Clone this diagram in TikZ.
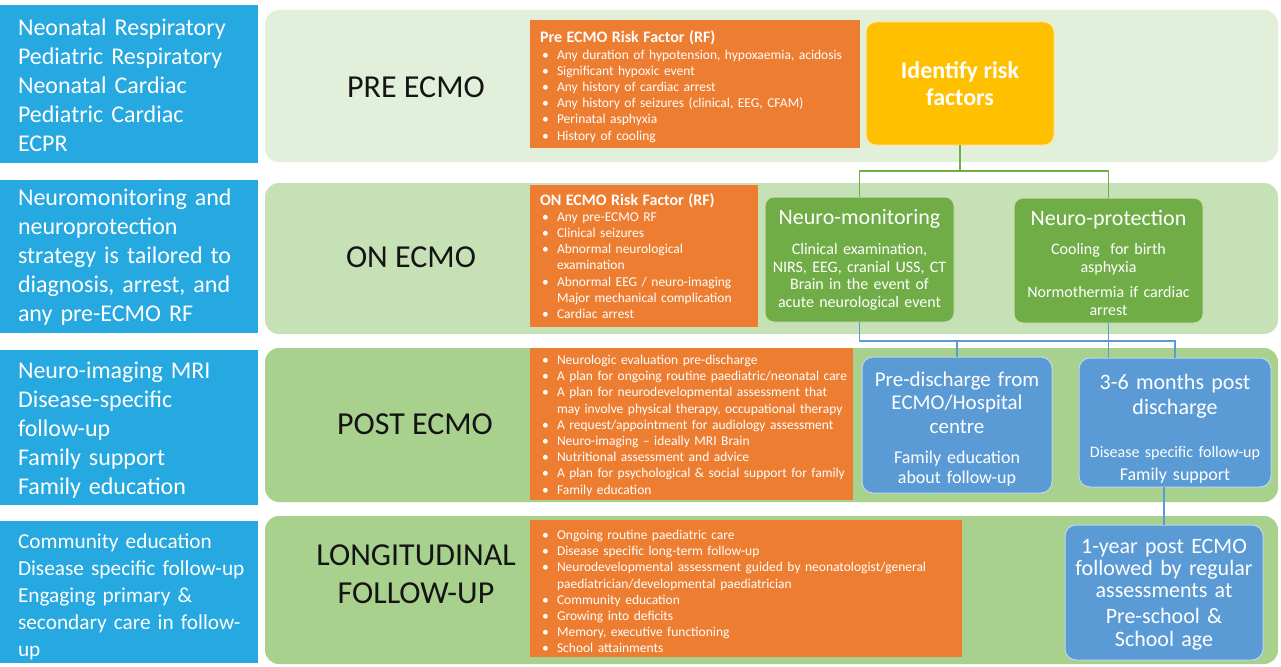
\documentclass[tikz,border=0pt]{standalone}
\usepackage{fontspec}
\setmainfont{Carlito}
\usetikzlibrary{calc}
\definecolor{leftblue}{RGB}{38,168,224}
\definecolor{row1}{RGB}{226,239,218}
\definecolor{row2}{RGB}{199,225,182}
\definecolor{row3}{RGB}{169,209,142}
\definecolor{orange1}{RGB}{237,125,49}
\definecolor{yellow1}{RGB}{255,192,0}
\definecolor{green1}{RGB}{112,173,71}
\definecolor{blue1}{RGB}{91,155,213}
\newcommand{\bl}{\makebox[17pt][l]{\hspace{2pt}\textbullet}}
\newcommand{\ind}{\hspace*{17pt}}
\newcommand{\fs}[2]{\fontsize{#1}{#2}\selectfont}
\begin{document}
\begin{tikzpicture}[x=1pt,y=-1pt,
 every node/.style={inner sep=0pt, outer sep=0pt},
 lbox/.style={fill=leftblue, anchor=north west},
 ltext/.style={text=white, font=\fs{24}{29}, align=left, text width=250pt, anchor=base west},
 panel/.style={rounded corners=14pt, anchor=north west},
 phase/.style={font=\fs{32}{38}, align=center, text=black!92},
 obox/.style={fill=orange1, anchor=north west},
 otext/.style={text=white, font=\fs{13.5}{16.2}, align=left, anchor=base west},
 ybox/.style={fill=yellow1, draw=yellow1!40!white, line width=1pt, rounded corners=10pt, anchor=north west, text=white, font=\bfseries\fs{24}{27}, align=center},
 gbox/.style={fill=green1, draw=green1!40!white, line width=1pt, rounded corners=9pt, anchor=north west},
 bbox/.style={fill=blue1, draw=blue1!40!white, line width=1pt, rounded corners=11pt, anchor=north west},
 wtext/.style={text=white, align=center, text width=200pt, anchor=base},
 gline/.style={draw=green1, line width=1.3pt},
 bline/.style={draw=blue1, line width=1.3pt}
]
\useasboundingbox (0,0) rectangle (1281,666);
\fill[white] (0,0) rectangle (1281,666);

% row panels
\node[panel, fill=row1, minimum width=1013pt, minimum height=152pt] (r1) at (265,10) {};
\node[panel, fill=row2, minimum width=1013pt, minimum height=151pt] (r2) at (265,183) {};
\node[panel, fill=row3, minimum width=1013pt, minimum height=154pt] (r3) at (265,348) {};
\node[panel, fill=row3, minimum width=1013pt, minimum height=148pt] (r4) at (265,516) {};

% left boxes
\node[lbox, minimum width=258pt, minimum height=158pt] (l1) at (0,5) {};
\node[ltext] (l1t) at (18,35.4) {Neonatal Respiratory\\Pediatric Respiratory\\Neonatal Cardiac\\Pediatric Cardiac\\ECPR};
\node[lbox, minimum width=258pt, minimum height=153pt] (l2) at (0,180) {};
\node[ltext] (l2t) at (18,205.4) {Neuromonitoring and\\neuroprotection\\strategy is tailored to\\diagnosis, arrest, and\\any pre-ECMO RF};
\node[lbox, minimum width=258pt, minimum height=155pt] (l3) at (0,350) {};
\node[ltext] (l3t) at (18,378.4) {Neuro-imaging MRI\\Disease-specific\\follow-up\\Family support\\Family education};
\node[lbox, minimum width=258pt, minimum height=142pt] (l4) at (0,521) {};
\node[ltext, font=\fs{21.3}{27}] (l4t) at (18,548.5) {Community education\\Disease specific follow-up\\Engaging primary \&\\secondary care in follow-\\up};

% phase labels
\node[phase] (p1) at (416,87) {PRE ECMO};
\node[phase] (p2) at (411,257) {ON ECMO};
\node[phase] (p3) at (415,424) {POST ECMO};
\node[phase] (p4) at (416,574) {LONGITUDINAL\\FOLLOW-UP};

% orange boxes
\node[obox, minimum width=330pt, minimum height=128pt] (o1) at (530,20) {};
\node[otext, text width=318pt] (o1t) at (540,43) {{\bfseries\fs{16}{16.2}Pre ECMO Risk Factor (RF)}\\
\bl Any duration of hypotension, hypoxaemia, acidosis\\
\bl Significant hypoxic event\\
\bl Any history of cardiac arrest\\
\bl Any history of seizures (clinical, EEG, CFAM)\\
\bl Perinatal asphyxia\\
\bl History of cooling};
\node[obox, minimum width=228pt, minimum height=142pt] (o2) at (530,185) {};
\node[otext, text width=216pt] (o2t) at (540,205) {{\bfseries\fs{16}{16.2}ON ECMO Risk Factor (RF)}\\
\bl Any pre-ECMO RF\\
\bl Clinical seizures\\
\bl Abnormal neurological\\
\ind examination\\
\bl Abnormal EEG / neuro-imaging\\
\ind Major mechanical complication\\
\bl Cardiac arrest};
\node[obox, minimum width=323pt, minimum height=152pt] (o3) at (530,348) {};
\node[otext, text width=311pt] (o3t) at (540,364.5) {\bl Neurologic evaluation pre-discharge\\
\bl A plan for ongoing routine paediatric/neonatal care\\
\bl A plan for neurodevelopmental assessment that\\
\ind may involve physical therapy, occupational therapy\\
\bl A request/appointment for audiology assessment\\
\bl Neuro-imaging -- ideally MRI Brain\\
\bl Nutritional assessment and advice\\
\bl A plan for psychological \& social support for family\\
\bl Family education};
\node[obox, minimum width=432pt, minimum height=137pt] (o4) at (530,520) {};
\node[otext, text width=420pt] (o4t) at (540,539.5) {\bl Ongoing routine paediatric care\\
\bl Disease specific long-term follow-up\\
\bl Neurodevelopmental assessment guided by neonatologist/general\\
\ind paediatrician/developmental paediatrician\\
\bl Community education\\
\bl Growing into deficits\\
\bl Memory, executive functioning\\
\bl School attainments};

% identify risk factors
\node[ybox, minimum width=188pt, minimum height=123pt] (ir) at (866,22) {Identify risk\\factors};

% green boxes
\node[gbox, minimum width=189pt, minimum height=125pt] (nm) at (765,197) {};
\node[wtext, font=\fs{22}{26}] (nmh) at (859.5,224.6) {Neuro-monitoring};
\node[wtext, font=\fs{16}{17.5}] (nmb) at (859.5,254.8) {Clinical examination,\\NIRS, EEG, cranial USS, CT\\Brain in the event of\\acute neurological event};
\node[gbox, minimum width=189pt, minimum height=125pt] (np) at (1014,198) {};
\node[wtext, font=\fs{22}{26}] (nph) at (1108.5,225.6) {Neuro-protection};
\node[wtext, font=\fs{16}{17.5}] (npb) at (1108.5,254.8) {Cooling\ \ for birth\\asphyxia\\[8pt]Normothermia if cardiac\\arrest};

% blue boxes
\node[bbox, minimum width=190pt, minimum height=136pt] (pd) at (862,357) {};
\node[wtext, font=\fs{21}{23.5}] (pdh) at (957,386.3) {Pre-discharge from\\ECMO/Hospital\\centre};
\node[wtext, font=\fs{18}{20.5}] (pdb) at (957,463.4) {Family education\\about follow-up};
\node[bbox, minimum width=192pt, minimum height=129pt] (sm) at (1079,358) {};
\node[wtext, font=\fs{22}{25}] (smh) at (1175,389.6) {3-6 months post\\discharge};
\node[wtext, font=\fs{16}{18}] (smb1) at (1175,457.8) {Disease specific follow-up};
\node[wtext, font=\fs{18}{20}] (smb2) at (1175,480.4) {Family support};
\node[bbox, minimum width=198pt, minimum height=135pt] (oy) at (1065,525) {};
\node[wtext, font=\fs{22}{21.7}] (oyh) at (1164,553.6) {1-year post ECMO\\followed by regular\\assessments at};
\node[wtext, font=\fs{22}{22.5}] (oyb) at (1164,623.5) {Pre-school \&\\School age};

% connectors
\draw[gline] (ir.south) -- ++(0,26) -| (nm.north);
\draw[gline] (ir.south) -- ++(0,26) -| (np.north);
\draw[bline] (nm.south) -- ++(0,19) -| (pd.north);
\draw[bline] (nm.south) -- ++(0,19) -| (sm.north);
\draw[bline] (np.south) -- (np.south |- sm.north);
\draw[bline] (sm.south -| oy.north) -- (oy.north);
\end{tikzpicture}
\end{document}
